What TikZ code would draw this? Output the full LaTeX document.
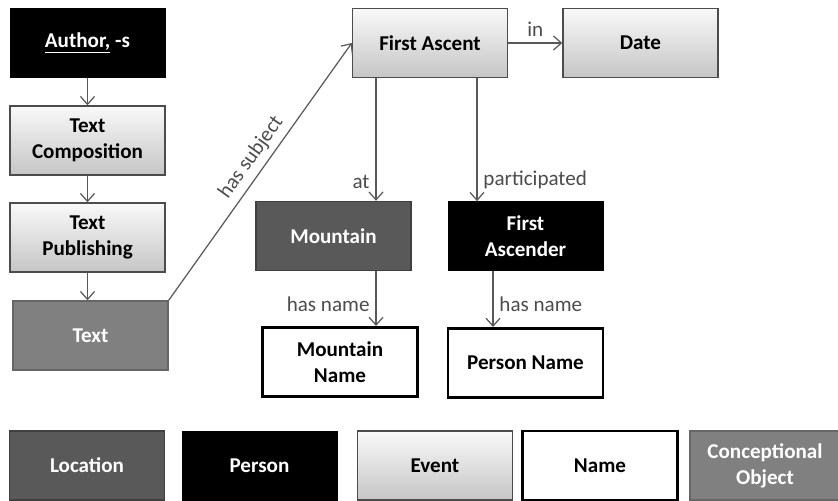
\documentclass[tikz,border=0pt]{standalone}
\usepackage{fontspec}
\setmainfont{Carlito}
\usepackage{tikz}
\usetikzlibrary{positioning, shapes.geometric, arrows.meta}
\tikzset{
	block/.style n args={1}{
		draw, % Draw a border
		rectangle, % Shape of the node
		minimum height=1.38cm, % Minimum height of the node
		minimum width=3.1cm, % Minimum width of the node
		align=center, % Text alignment within the node
		font=\fontsize{12}{14.8}\selectfont\bfseries,
		% Apply fill color based on parameter
		fill=#1
	},
	event/.style={block=gray!20, top color=gray!5, bottom color=gray!45, draw=black!70, line width=0.8pt},
	person/.style={block=black, text=white},
	place/.style={block=black!65, text=white, draw=black!75, line width=0.8pt},
	concept/.style={block=black!50, text=white, draw=black!60, line width=0.8pt},
	namebox/.style={block=white, line width=1.7pt},
	rel/.style={draw=black!65, line width=0.7pt, -{Straight Barb[length=4.5pt,width=8pt]}},
	lbl/.style={text=black!70}
}

\begin{document}
\begin{tikzpicture}[font=\fontsize{12}{14.8}\selectfont]
	\useasboundingbox (0,0) rectangle (16.76,-10.02);
	
	% text chain on the left
	\node[person] (author) at (1.75,-0.86) {\underline{Author,} -s};
	\node[event, node distance=1.95cm, below of = author] (comp) {Text\\Composition};
	\node[event, node distance=1.94cm, below of = comp] (publ) {Text\\Publishing};
	\node[concept, node distance=1.96cm, below of = publ, xshift=0.06cm] (text) {Text};
	\draw[rel] (author) -- (comp);
	\draw[rel] (comp) -- (publ);
	\draw[rel] (publ) -- (publ |- text.north);
	
	% the event
	\node[event] (ascent) at (8.6,-0.86) {First Ascent};
	\node[event, node distance=4.21cm, right of = ascent] (date) {Date};
	\draw[rel] (ascent) -- node[above, midway, lbl] {in} (date);
	\draw[rel] (text.north east) -- node[above, sloped, pos=0.52, lbl] {has subject} (ascent.west);
	
	\node[place, node distance=3.86cm, below of = ascent, xshift=-1.93cm] (mountain) {Mountain};
	\node[person, node distance=3.84cm, right of = mountain] (ascender) {First\\Ascender};
	\draw[rel] ([xshift=-1.08cm]ascent.south) -- node[left, pos=0.85, lbl] {at} ([xshift=-1.08cm]ascent.south |- mountain.north);
	\draw[rel] ([xshift=0.94cm]ascent.south) -- node[right, pos=0.83, lbl] {participated} ([xshift=0.94cm]ascent.south |- ascender.north);
	
	\node[namebox, node distance=2.52cm, below of = mountain, xshift=0.13cm] (mname) {Mountain\\Name};
	\node[namebox, node distance=2.54cm, below of = ascender] (pname) {Person Name};
	\draw[rel] ([xshift=0.85cm]mountain.south) -- node[left, pos=0.6, lbl] {has name} ([xshift=0.85cm]mountain.south |- mname.north);
	\draw[rel] ([xshift=-0.65cm]ascender.south) -- node[right, pos=0.6, lbl] {has name} ([xshift=-0.65cm]ascender.south |- pname.north);
	
	% legend
	\node[place] (keyloc) at (1.74,-9.31) {Location};
	\node[person, node distance=3.45cm, right of = keyloc] (keyper) {Person};
	\node[event, node distance=3.51cm, right of = keyper] (keyev) {Event};
	\node[namebox, node distance=3.3cm, right of = keyev] (keyname) {Name};
	\node[concept, node distance=3.3cm, right of = keyname, minimum width=3.0cm] (keycon) {Conceptional\\Object};
	
\end{tikzpicture}
\end{document}
